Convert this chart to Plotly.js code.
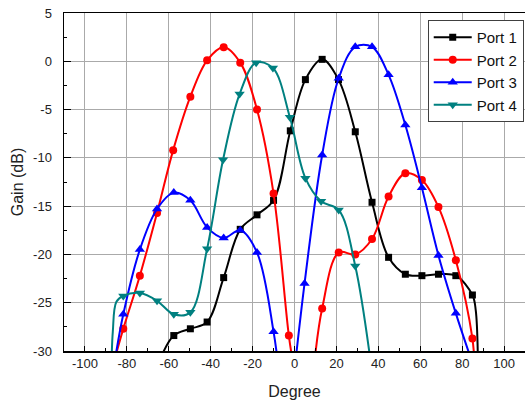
<!DOCTYPE html>
<html>
<head>
<meta charset="utf-8">
<script src="https://cdn.plot.ly/plotly-3.0.1.min.js"></script>
<style>html,body{margin:0;padding:0;background:#fff;}#chart{width:525px;height:404px;}</style>
</head>
<body>
<div id="chart"></div>
<script>
// Port 1 (black squares); marker flag 0 = curve-only point (no marker drawn)
const port1X = [-65, -57.6, -49.7, -41.7, -33.8, -25.9, -17.9, -10, -2, 5.2, 13.2, 21, 29, 37, 44.9, 52.9, 60.8, 68.7, 77, 84.9, 86.5, 87.6];
const port1Y = [-31.3, -28.4, -27.7, -27.0, -22.4, -17.4, -15.9, -14.4, -7.2, -1.9, 0.2, -1.9, -7.3, -14.6, -20.3, -22.05, -22.2, -22.05, -22.2, -24.2, -25.8, -32];
const port1M = [1, 1, 1, 1, 1, 1, 1, 1, 1, 1, 1, 1, 1, 1, 1, 1, 1, 1, 1, 1, 0, 1];

// Port 2 (red circles)
const port2X = [-86, -81.7, -73.8, -65.6, -57.9, -49.7, -41.7, -33.8, -25.9, -17.9, -10, -2.7, -0.5, null, 9.5, 13.2, 21.1, 29, 37, 44.9, 52.9, 60.8, 68.7, 77, 84.9, 86];
const port2Y = [-31, -27.7, -22.2, -15.7, -9.2, -3.66, 0.1, 1.45, -0.14, -5.0, -13.7, -28.4, -31.5, null, -31.2, -25.6, -19.8, -20.0, -18.4, -14.0, -11.6, -12.3, -15.1, -20.6, -28.7, -32];
const port2M = [1, 1, 1, 1, 1, 1, 1, 1, 1, 1, 1, 1, 1, 1, 1, 1, 1, 1, 1, 1, 1, 1, 1, 1, 1, 1];

// Port 3 (blue up-triangles)
const port3X = [-86.5, -81.7, -73.8, -65.6, -57.6, -49.7, -41.7, -33.8, -25.9, -17.9, -10, -7, null, -0.5, 4.8, 13.2, 21.1, 29, 37, 44.9, 52.9, 60.8, 68.7, 77, 85];
const port3Y = [-32, -26.2, -19.5, -15.3, -13.6, -14.4, -17.2, -18.3, -17.5, -19.8, -28.0, -33, null, -33, -23.0, -9.7, -1.76, 1.5, 1.5, -1.4, -6.6, -13.1, -20.1, -26.1, -31.3];
const port3M = [1, 1, 1, 1, 1, 1, 1, 1, 1, 1, 1, 1, 1, 1, 1, 1, 1, 1, 1, 1, 1, 1, 1, 1, 1];

// Port 4 (teal down-triangles)
const port4X = [-87.4, -86.7, -85, -81.7, -73.8, -65.6, -57.6, -49.7, -41.7, -34.1, -26.2, -18.3, -10.3, -2.2, 5.2, 12.7, 21.1, 29, 37];
const port4Y = [-32, -28, -24.9, -24.3, -24.0, -24.8, -26.2, -26.0, -19.4, -10.2, -3.4, -0.14, -0.7, -5.8, -12.1, -14.5, -15.4, -21.2, -32.2];
const port4M = [1, 0, 0, 1, 1, 1, 1, 1, 1, 1, 1, 1, 1, 1, 1, 1, 1, 1, 1];

const seriesNames = ['Port 1', 'Port 2', 'Port 3', 'Port 4'];
const xTickVals = [-100, -80, -60, -40, -20, 0, 20, 40, 60, 80, 100];
const yTickVals = [-30, -25, -20, -15, -10, -5, 0, 5];

const FONT = 'Arial, "Liberation Sans", sans-serif';

function mk(x, y, m, name, color, symbol, size) {
  return {
    type: 'scatter', mode: 'lines+markers', name: name,
    x: x, y: y, connectgaps: false,
    line: {color: color, width: 2, shape: 'spline', smoothing: 1},
    marker: {symbol: symbol, size: size, line: {width: 0},
             color: m.map(v => v ? color : 'rgba(0,0,0,0)')},
    cliponaxis: true
  };
}

const data = [
  mk(port1X, port1Y, port1M, seriesNames[0], '#000000', 'square', 7),
  mk(port2X, port2Y, port2M, seriesNames[1], '#ff0000', 'circle', 8),
  mk(port3X, port3Y, port3M, seriesNames[2], '#0000ff', 'triangle-up', 9),
  mk(port4X, port4Y, port4M, seriesNames[3], '#008080', 'triangle-down', 9)
];

const layout = {
  width: 525, height: 404,
  margin: {l: 64, r: 0, t: 13, b: 53},
  paper_bgcolor: '#ffffff', plot_bgcolor: '#ffffff',
  font: {family: FONT, color: '#222222', size: 13},
  showlegend: true,
  legend: {
    x: 0.789, y: 0.979, xanchor: 'left', yanchor: 'top',
    bordercolor: '#404040', borderwidth: 1, bgcolor: '#ffffff',
    font: {family: FONT, size: 15, color: '#111111'},
    itemwidth: 38, tracegroupgap: 0
  },
  xaxis: {
    range: [-110, 110], tickvals: xTickVals, ticktext: xTickVals.map(String),
    ticks: 'inside', ticklen: 5, tickwidth: 1, tickcolor: '#000',
    minor: {dtick: 10, tick0: 0, ticks: 'inside', ticklen: 3, tickcolor: '#000', showgrid: false},
    showline: true, linecolor: '#000', linewidth: 1.5, mirror: true,
    showgrid: true, gridcolor: '#aaaaaa', gridwidth: 1, zeroline: false,
    tickfont: {family: FONT, size: 13, color: '#222'},
    title: {text: 'Degree', font: {family: FONT, size: 16, color: '#222'}, standoff: 15}
  },
  yaxis: {
    range: [-30, 5], tickvals: yTickVals, ticktext: yTickVals.map(String),
    ticks: 'inside', ticklen: 7, tickwidth: 1, tickcolor: '#000',
    minor: {dtick: 2.5, tick0: 0, ticks: 'inside', ticklen: 3, tickcolor: '#000', showgrid: false},
    showline: true, linecolor: '#000', linewidth: 1.5,
    showgrid: true, gridcolor: '#aaaaaa', gridwidth: 1, zeroline: false,
    ticklabelstandoff: 8,
    tickfont: {family: FONT, size: 13, color: '#222'},
    title: {text: 'Gain (dB)', font: {family: FONT, size: 16, color: '#222'}, standoff: 5}
  }
};

Plotly.newPlot('chart', data, layout, {displayModeBar: false, staticPlot: true});
</script>
</body>
</html>
